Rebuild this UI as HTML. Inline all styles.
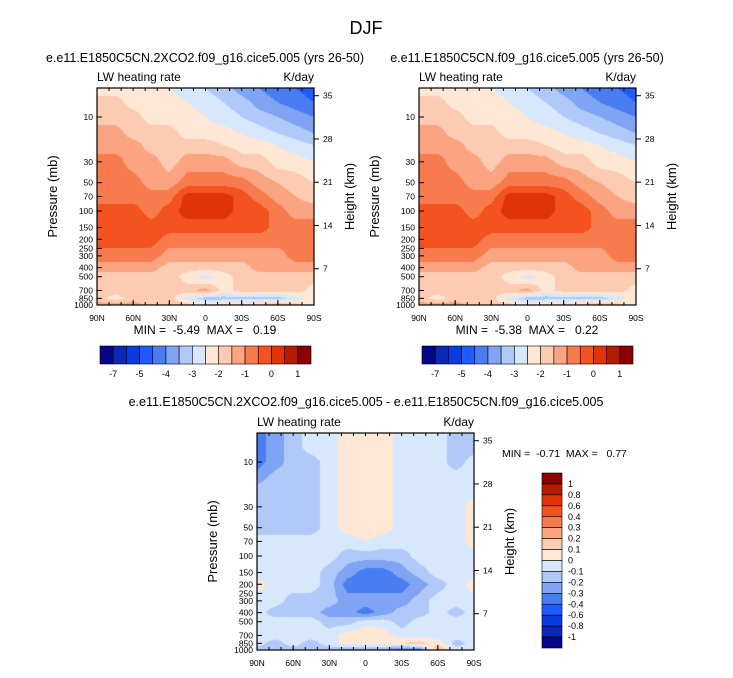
<!DOCTYPE html>
<html><head><meta charset="utf-8">
<style>
body{margin:0;background:#fff;}
svg text{font-family:"Liberation Sans",sans-serif;fill:#000;white-space:pre;}
</style></head>
<body>
<svg id="fig" width="733" height="673" xmlns="http://www.w3.org/2000/svg">
<text x="366" y="34" font-size="18" text-anchor="middle">DJF</text>
<g id="root"></g>
</svg>
<script>
// color classes (16)
const colors=["#06068a","#0a28b4","#0a3de0","#1f5cff","#4a7df2","#80a4f4","#b1c9f9","#d7e7fc","#fee7d4","#fccbb1","#fba482","#f87b4e","#f4521f","#e03307","#b51b00","#8b0000"];
const pressures=[5,7,10,15,20,30,50,70,100,150,200,300,400,500,700,850,1000];
const lats=[90,75,60,45,30,15,0,-15,-30,-45,-60,-75,-90];
const ctrlField=[
[8,8,8,8,7.5,7,6.5,6,5,4.5,4,3.5,3],
[9,9,8,8,8,7.5,7,6.5,6,5,4.5,4,3.5],
[9,9,9,8,8,8,7.5,7,6.5,6,5.5,5,4.5],
[10,10,9,9,9,8,8,8,7.5,7,6.5,6,5.5],
[10,10,10,9,9,9,9,8.5,8,8,7.5,7,6.5],
[11,11,10,10,9,10,10,10,9,9,8,8,7.5],
[11,11,11,10,10,11,11,11,11,10,9.5,9,8.5],
[11,11,11,11,11,13,13,13,12,11,10,9.5,9],
[12,12,12,11,12,13,13,13,12,12,11,10,10],
[12,12,12,12,12,12,12,12,12,12,11,11,11],
[12,12,12,12,11,11,11,11,11,11,11,11,11],
[11,11,11,11,10,10,10,10,10,10,10,11,11],
[10,10,10,10,9,9,9,9,9,10,10,10,10],
[9,9,9,9,9,8,7,8,9,9,9,9,9],
[9,9,9,9,9,9,10,8,9,9,9,9,8],
[9,8,9,9,9,7,6,6,6,6,6,7,8],
[10,10,10,9,9,9,8,9,9,9,10,9,8]];
const co2Field=ctrlField;
const diffField=[
[4,5,6,7,7,8,8,8,7,7,7,6,6],
[4,5,6,7,7,8,8,8,7,7,7,6,6],
[4,5,6,6,7,8,8,8,7,7,7,6,7],
[5,6,6,6,7,8,8,8,7,7,7,7,7],
[6,6,6,6,7,8,8,8,7,7,7,7,7],
[6,6,6,6,7,8,8,8,7,7,7,7,8],
[6,6,6,6,7,8,8,8,7,7,7,7,8],
[7,7,7,7,7,7,7.5,7,7,7,7,7,8],
[7,7,7,7,7,6,6,6,6,7,7,7,7],
[7,7,7,7,6,5,4,4,5,6,7,7,7],
[8,7,7,7,6,4,4,4,4,5,6,7,8],
[7,7,6,6,6,5,5,5,5,6,7,7,7],
[7,6,6,6,5,5,4,5,6,6,7,6,7],
[7,7,7,7,6,6,7,7,6,7,7,7,7],
[7,7,7,7,7,8,8.5,8,7,7,7,7,7],
[7,6,7,6,7,8,8,8,8.5,9,8,6,7],
[6,6,6,6,6,5,5,5,4,4,10,7,7]];
const pTicks=[10,30,50,70,100,150,200,250,300,400,500,700,850,1000];
const hTicks=[35,28,21,14,7];
const xTickLabels=["90N","60N","30N","0","30S","60S","90S"];
const topCbLabels=["-7","-5","-4","-3","-2","-1","0","1"];
const diffCbLabels=["1","0.8","0.6","0.4","0.3","0.2","0.1","0","-0.1","-0.2","-0.3","-0.4","-0.6","-0.8","-1"];

const NS="http://www.w3.org/2000/svg";
const root=document.getElementById('root');
function el(tag,attrs,parent,text){const e=document.createElementNS(NS,tag);for(const k in attrs)e.setAttribute(k,attrs[k]);if(text!==undefined)e.textContent=text;(parent||root).appendChild(e);return e;}

function sample(field,lat,p){
  let j=(90-lat)/15; j=Math.max(0,Math.min(12,j));
  const lp=Math.log10(p);
  let i=0; while(i<pressures.length-2 && Math.log10(pressures[i+1])<lp) i++;
  let t=(lp-Math.log10(pressures[i]))/(Math.log10(pressures[i+1])-Math.log10(pressures[i]));
  t=Math.max(0,Math.min(1,t));
  const j0=Math.min(11,Math.floor(j)),u=j-j0;
  const a=field[i][j0]*(1-u)+field[i][j0+1]*u;
  const b=field[i+1][j0]*(1-u)+field[i+1][j0+1]*u;
  return a*(1-t)+b*t;
}

function panel(name,x0,y0,field,title,titleX,titleY){
  const W=217,H=217;
  const g=el('g',{});
  
  
  const yOf=p=>y0+H-(3-Math.log10(p))*94;
  const yOfH=h=>y0+H+7-h*6.18;
  const fo=el('foreignObject',{x:x0,y:y0,width:W,height:H},g);
  const cv=document.createElement('canvas');cv.width=W;cv.height=H;
  
  
  fo.appendChild(cv);
  const ctx=cv.getContext('2d');
  for(let py=0;py<H;py++){
    const p=10**(3-(H-py-0.5)/94);
    for(let px=0;px<W;px++){
      const lat=90-(px+0.5)/W*180;
      let v=Math.floor(sample(field,lat,p)+0.5);
      v=Math.max(0,Math.min(15,v));
      ctx.fillStyle=colors[v];ctx.fillRect(px,py,1,1);
    }
  }
  el('rect',{x:x0,y:y0,width:W,height:H,fill:'none',stroke:'#000','stroke-width':1.2},g);
  const t=el('text',{x:titleX,y:titleY,'font-size':12.5,'text-anchor':'middle'},g,title);
  
  const l=el('text',{x:x0,y:y0-7,'font-size':12},g,'LW heating rate');
  
  const u=el('text',{x:x0+W,y:y0-7,'font-size':12,'text-anchor':'end'},g,'K/day');
  
  pTicks.forEach(p=>{const y=yOf(p);
    el('line',{x1:x0,x2:x0+5,y1:y,y2:y,stroke:'#000'},g);
    const tt=el('text',{x:x0-4,y:y+3,'font-size':8.5,'text-anchor':'end'},g,String(p));
    });
  hTicks.forEach(h=>{const y=yOfH(h);
    el('line',{x1:x0+W,x2:x0+W+5,y1:y,y2:y,stroke:'#000'},g);
    const tt=el('text',{x:x0+W+9,y:y+3,'font-size':8.5},g,String(h));
    });
  xTickLabels.forEach((s,k)=>{const x=x0+k*W/6;
    el('line',{x1:x,x2:x,y1:y0+H,y2:y0+H-5,stroke:'#000'},g);
    const tt=el('text',{x:x,y:y0+H+16,'font-size':8.5,'text-anchor':'middle'},g,s);
    });
  for(let k=0;k<=18;k++){const x=x0+k*W/18;el('line',{x1:x,x2:x,y1:y0+H,y2:y0+H-3,stroke:'#000'},g);el('line',{x1:x,x2:x,y1:y0,y2:y0+3,stroke:'#000'},g);}
  const ya=el('text',{transform:`translate(${x0-40},${y0+H/2}) rotate(-90)`,'font-size':13,'text-anchor':'middle'},g,'Pressure (mb)');
  
  const ha=el('text',{transform:`translate(${x0+W+40},${y0+H/2}) rotate(-90)`,'font-size':13,'text-anchor':'middle'},g,'Height (km)');
  
  return g;
}

function hbar(x0,y0){
  const g=el('g',{});
  
  const bw=211/16;
  colors.forEach((c,k)=>{const r=el('rect',{x:x0+k*bw,y:y0,width:bw,height:18,fill:c,stroke:'#000','stroke-width':0.6},g);
    });
  topCbLabels.forEach((s,k)=>{const t=el('text',{x:x0+(2*k+1)*bw,y:y0+31,'font-size':9,'text-anchor':'middle'},g,s);
    });
}

panel('control-co2-panel',97,88,co2Field,'e.e11.E1850C5CN.2XCO2.f09_g16.cice5.005 (yrs 26-50)',205,62);
el('text',{x:205,y:334,'font-size':12,'text-anchor':'middle',},root,'MIN =  -5.49  MAX =   0.19');
hbar(100,346);
panel('control-panel',419,88,ctrlField,'e.e11.E1850C5CN.f09_g16.cice5.005 (yrs 26-50)',527,62);
el('text',{x:527,y:334,'font-size':12,'text-anchor':'middle',},root,'MIN =  -5.38  MAX =   0.22');
hbar(422,346);
panel('difference-panel',257,433,diffField,'e.e11.E1850C5CN.2XCO2.f09_g16.cice5.005 - e.e11.E1850C5CN.f09_g16.cice5.005',366,406);
el('text',{x:502,y:457,'font-size':10.5,},root,'MIN =  -0.71  MAX =   0.77');
// vertical colorbar
(function(){
  const g=el('g',{});
  
  const x0=542,y0=473,bh=175/16;
  colors.slice().reverse().forEach((c,k)=>{const r=el('rect',{x:x0,y:y0+k*bh,width:20,height:bh,fill:c,stroke:'#000','stroke-width':0.6},g);
    });
  diffCbLabels.forEach((s,k)=>{const t=el('text',{x:568,y:y0+(k+1)*bh+3,'font-size':9},g,s);
    });
})();
</script>
</body></html>
